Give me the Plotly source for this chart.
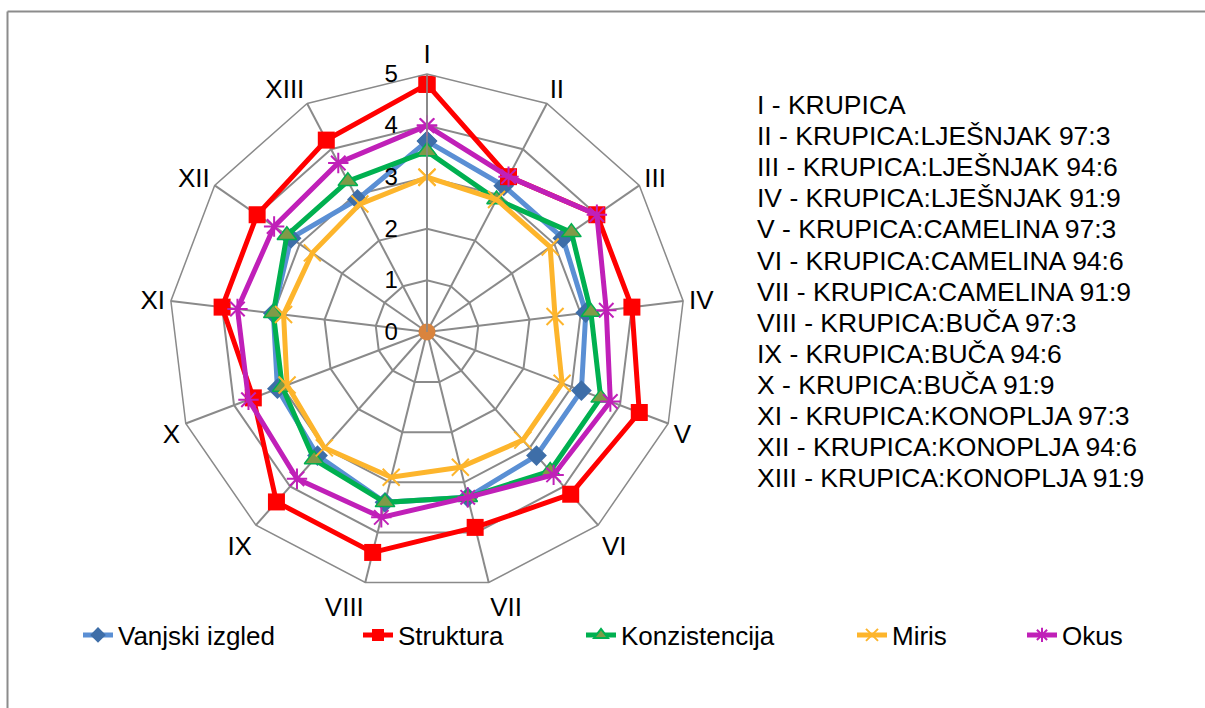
import plotly.graph_objects as go

# Sensory evaluation scores (0-5) for 13 semolina blends
categories = ["I", "II", "III", "IV", "V", "VI", "VII", "VIII", "IX", "X", "XI", "XII", "XIII"]

vanjski_izgled = [3.7, 3.2, 3.2, 3.1, 3.2, 3.2, 3.3, 3.4, 3.2, 3.1, 3.0, 3.2, 2.9]
struktura      = [4.8, 3.4, 4.0, 4.0, 4.4, 4.2, 3.9, 4.4, 4.4, 3.6, 4.0, 4.0, 4.2]
konzistencija  = [3.5, 2.9, 3.4, 3.2, 3.6, 3.6, 3.3, 3.4, 3.3, 3.0, 3.0, 3.3, 3.3]
miris          = [3.0, 2.9, 2.9, 2.5, 2.8, 2.8, 2.7, 2.9, 3.0, 2.9, 2.8, 2.7, 2.8]
okus           = [4.0, 3.4, 4.0, 3.5, 3.8, 3.7, 3.3, 3.7, 3.8, 3.7, 3.7, 3.6, 3.7]
origin         = [0]

sample_names = [
    "I - KRUPICA",
    "II - KRUPICA:LJEŠNJAK 97:3",
    "III - KRUPICA:LJEŠNJAK 94:6",
    "IV - KRUPICA:LJEŠNJAK 91:9",
    "V - KRUPICA:CAMELINA 97:3",
    "VI - KRUPICA:CAMELINA 94:6",
    "VII - KRUPICA:CAMELINA 91:9",
    "VIII - KRUPICA:BUČA 97:3",
    "IX - KRUPICA:BUČA 94:6",
    "X - KRUPICA:BUČA 91:9",
    "XI - KRUPICA:KONOPLJA 97:3",
    "XII - KRUPICA:KONOPLJA 94:6",
    "XIII - KRUPICA:KONOPLJA 91:9",
]

W, H = 1205, 708
FONT = "Liberation Sans, Arial, sans-serif"
GRID = "#8a8a8a"
TXT = 26

series = [
    ("Vanjski izgled", vanjski_izgled, "#5a8fd4",
     dict(symbol="diamond", size=16, color="#3e6ea8", line=dict(width=0))),
    ("Struktura", struktura, "#ff0000",
     dict(symbol="square", size=17, color="#ff0000", line=dict(width=0))),
    ("Konzistencija", konzistencija, "#00b050",
     dict(symbol="triangle-up", size=17, color="#7f9a48", line=dict(width=1.5, color="#00b050"))),
    ("Miris", miris, "#fdb52c",
     dict(symbol="x-thin-open", size=17, color="#fdb52c", line=dict(width=2, color="#fdb52c"))),
    ("Okus", okus, "#c020b8",
     dict(symbol="asterisk-open", size=17, color="#c020b8", line=dict(width=2, color="#c020b8"))),
]

legend_x = [78, 358, 581, 852, 1022]
legend_y = 1 - 635 / H

fig = go.Figure()
for i, (name, vals, col, mk) in enumerate(series):
    lg = "legend" if i == 0 else f"legend{i + 1}"
    fig.add_trace(go.Scatterpolar(
        r=vals + vals[:1],
        theta=categories + categories[:1],
        mode="lines+markers",
        name=name,
        line=dict(color=col, width=5),
        marker=mk,
        legend=lg,
    ))

# origin marker (plotly hides points lying exactly on the pole, so nudge it outward by a hair)
fig.add_trace(go.Scatterpolar(
    r=[v + 1e-3 for v in origin], theta=categories[:1], mode="markers",
    marker=dict(symbol="circle", size=17, color="#d9843e"),
    showlegend=False, hoverinfo="skip", cliponaxis=False,
))

cx, cy, R = 427, 332, 258
layout_legends = {}
for i, x in enumerate(legend_x):
    key = "legend" if i == 0 else f"legend{i + 1}"
    layout_legends[key] = dict(
        x=x / W, y=legend_y, xanchor="left", yanchor="middle",
        orientation="h", bgcolor="rgba(0,0,0,0)",
        font=dict(family=FONT, size=TXT, color="#000000"),
        itemsizing="constant",
    )

annotations = []
for k, txt in enumerate(sample_names):
    annotations.append(dict(
        text=txt, x=755 / W, y=1 - (105 + 31.1 * k) / H,
        xref="paper", yref="paper", xanchor="left", yanchor="middle",
        showarrow=False, font=dict(family=FONT, size=26.5, color="#000000"),
    ))

fig.update_layout(
    width=W, height=H, autosize=False,
    margin=dict(l=0, r=0, t=0, b=0),
    paper_bgcolor="white", plot_bgcolor="white",
    font=dict(family=FONT, color="#000000"),
    polar=dict(
        domain=dict(x=[(cx - R) / W, (cx + R) / W],
                    y=[(H - cy - R) / H, (H - cy + R) / H]),
        bgcolor="white",
        gridshape="linear",
        angularaxis=dict(
            direction="clockwise", rotation=90,
            showgrid=True, gridcolor=GRID, gridwidth=1.5,
            showline=True, linecolor=GRID, linewidth=1.5,
            ticks="", tickfont=dict(family=FONT, size=TXT, color="#000000"),
        ),
        radialaxis=dict(
            range=[0, 5], tickvals=[0, 1, 2, 3, 4, 5], angle=90,
            showgrid=True, gridcolor=GRID, gridwidth=1.5,
            showline=True, linecolor=GRID, linewidth=1.5,
            ticks="outside", ticklen=20, tickcolor="rgba(0,0,0,0)",
            side="counterclockwise", tickangle=90,
            tickfont=dict(family=FONT, size=24, color="#000000"),
        ),
    ),
    annotations=annotations,
    shapes=[
        dict(type="line", xref="paper", yref="paper",
             x0=7.5 / W, x1=1.02, y0=1 - 11.5 / H, y1=1 - 11.5 / H,
             line=dict(color="#8c8c8c", width=2)),
        dict(type="line", xref="paper", yref="paper",
             x0=7.5 / W, x1=7.5 / W, y0=-0.02, y1=1 - 11.5 / H,
             line=dict(color="#8c8c8c", width=2)),
    ],
    **layout_legends,
)

fig.write_html("out.html")
